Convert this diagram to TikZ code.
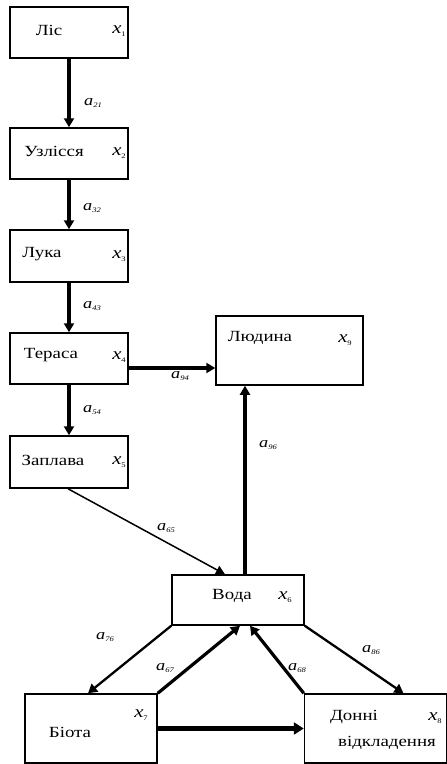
\documentclass[tikz,border=0pt]{standalone}
\usepackage{fontspec}
\setmainfont{Liberation Serif}[FakeStretch=1.22]
\usetikzlibrary{arrows.meta}
\newcommand{\albl}[1]{{\fontsize{15}{15}\selectfont\itshape a}\raisebox{-2.5pt}{\fontsize{7}{7}\selectfont\itshape #1}}
\newcommand{\xlbl}[1]{{\fontsize{17}{17}\selectfont\itshape x}\raisebox{-3pt}{\fontsize{7}{7}\selectfont #1}}
\begin{document}
\begin{tikzpicture}[x=1pt,y=-1pt,
  box/.style={draw, line width=1.5pt, inner sep=0pt},
  boxtext/.style={font=\fontsize{15.5}{16}\selectfont, inner sep=0pt},
  xl/.style={inner sep=0pt},
  al/.style={inner sep=0pt, anchor=west},
  thk/.style={line width=3.2pt, -{Triangle[length=9pt,width=10pt]}},
  med/.style={line width=2.3pt, -{Triangle[length=9pt,width=10pt]}},
  thn/.style={line width=1.5pt, -{Triangle[length=9pt,width=9pt]}}]
\path[use as bounding box] (0,0) rectangle (447,764);
% boxes
\node[box, minimum width=118pt, minimum height=51pt] (lis) at (69,32.5) {};
\node[box, minimum width=118pt, minimum height=51pt] (uzl) at (69,153.5) {};
\node[box, minimum width=118pt, minimum height=52pt] (luka) at (69,256) {};
\node[box, minimum width=118pt, minimum height=51pt] (ter) at (69,358.5) {};
\node[box, minimum width=118pt, minimum height=52pt] (zap) at (69,462) {};
\node[box, minimum width=147pt, minimum height=69pt] (lyud) at (289.5,350.5) {};
\node[box, minimum width=132pt, minimum height=50pt] (voda) at (238,600) {};
\node[box, minimum width=132pt, minimum height=69pt] (biota) at (91,728.5) {};
\node[box, minimum width=142pt, minimum height=69pt] (donni) at (375.5,728.5) {};
% texts
\node[boxtext] (t1) at (49,30) {Ліс};
\node[xl] (x1) at (119,31) {\xlbl{1}};
\node[boxtext] (t2) at (54,151) {Узлісся};
\node[xl] (x2) at (119,153) {\xlbl{2}};
\node[boxtext] (t3) at (42,254) {Лука};
\node[xl] (x3) at (119,256) {\xlbl{3}};
\node[boxtext] (t4) at (51,355) {Тераса};
\node[xl] (x4) at (119,357) {\xlbl{4}};
\node[boxtext] (t5) at (53,460) {Заплава};
\node[xl] (x5) at (119,462) {\xlbl{5}};
\node[boxtext] (t9) at (260,338) {Людина};
\node[xl] (x9) at (345,340) {\xlbl{9}};
\node[boxtext] (t6) at (232,596) {Вода};
\node[xl] (x6) at (285,597) {\xlbl{6}};
\node[boxtext] (t7) at (70,732) {Біота};
\node[xl] (x7) at (141,715) {\xlbl{7}};
\node[boxtext] (t8a) at (354,717) {Донні};
\node[xl] (x8) at (435,718) {\xlbl{8}};
\node[boxtext] (t8b) at (387,743) {відкладення};
% arrows
\draw[thk] (lis.south) -- (uzl.north);
\draw[thk] (uzl.south) -- (luka.north);
\draw[thk] (luka.south) -- (ter.north);
\draw[thk] (ter.south) -- (zap.north);
\draw[thk] ([yshift=-9.5pt]ter.east) -- ([yshift=-9.5pt]ter.east -| lyud.west);
\draw[thk] ([xshift=7pt]voda.north) -- ([xshift=7pt]voda.north |- lyud.south);
\draw[thn] ([xshift=-1pt]zap.south) -- ([xshift=-13pt]voda.north);
\draw[med] (voda.south west) -- ([xshift=-3pt]biota.north);
\draw[thk] (biota.north east) -- ([xshift=2pt]voda.south);
\draw[thk] (donni.north west) -- ([xshift=12pt]voda.south);
\draw[med] (voda.south east) -- ([xshift=28pt]donni.north);
\draw[line width=4.2pt, -{Triangle[length=10pt,width=12pt]}] (biota.east) -- (donni.west);
% labels
\node[al] (a21) at (84,103) {\albl{21}};
\node[al] (a32) at (83,208) {\albl{32}};
\node[al] (a43) at (83,306) {\albl{43}};
\node[al] (a54) at (83,410) {\albl{54}};
\node[al] (a94) at (171,376) {\albl{94}};
\node[al] (a96) at (259,445) {\albl{96}};
\node[al] (a65) at (157,528) {\albl{65}};
\node[al] (a76) at (96,637) {\albl{76}};
\node[al] (a67) at (156,668) {\albl{67}};
\node[al] (a68) at (288,668) {\albl{68}};
\node[al] (a86) at (362,650) {\albl{86}};
\end{tikzpicture}
\end{document}
